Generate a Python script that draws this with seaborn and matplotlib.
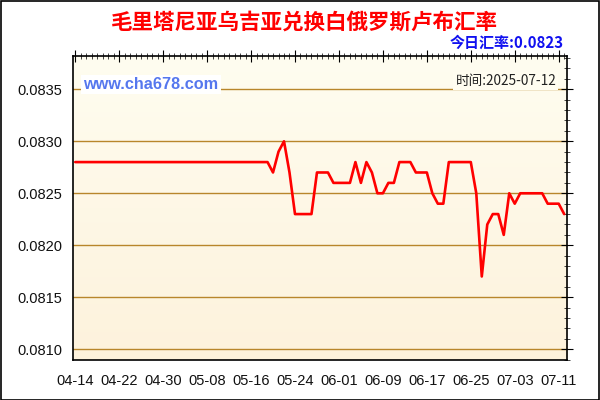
import numpy as np
import pandas as pd
import matplotlib
matplotlib.use("Agg")
import matplotlib.pyplot as plt
import matplotlib.dates as mdates
from matplotlib.ticker import MultipleLocator, FormatStrFormatter
from matplotlib.colors import LinearSegmentedColormap
import seaborn as sns

dates = pd.date_range("2025-04-14", "2025-07-12", freq="D")
rates = [
    0.0828, 0.0828, 0.0828, 0.0828, 0.0828, 0.0828, 0.0828, 0.0828, 0.0828, 0.0828,
    0.0828, 0.0828, 0.0828, 0.0828, 0.0828, 0.0828, 0.0828, 0.0828, 0.0828, 0.0828,
    0.0828, 0.0828, 0.0828, 0.0828, 0.0828, 0.0828, 0.0828, 0.0828, 0.0828, 0.0828,
    0.0828, 0.0828, 0.0828, 0.0828, 0.0828, 0.0828, 0.0827, 0.0829, 0.0830, 0.0827,
    0.0823, 0.0823, 0.0823, 0.0823, 0.0827, 0.0827, 0.0827, 0.0826, 0.0826, 0.0826,
    0.0826, 0.0828, 0.0826, 0.0828, 0.0827, 0.0825, 0.0825, 0.0826, 0.0826, 0.0828,
    0.0828, 0.0828, 0.0827, 0.0827, 0.0827, 0.0825, 0.0824, 0.0824, 0.0828, 0.0828,
    0.0828, 0.0828, 0.0828, 0.0825, 0.0817, 0.0822, 0.0823, 0.0823, 0.0821, 0.0825,
    0.0824, 0.0825, 0.0825, 0.0825, 0.0825, 0.0825, 0.0824, 0.0824, 0.0824, 0.0823,
]
title = "毛里塔尼亚乌吉亚兑换白俄罗斯卢布汇率"
today_text = "今日汇率:0.0823"
site_text = "www.cha678.com"
time_text = "时间:2025-07-12"

df = pd.DataFrame({"date": dates, "rate": rates})

sns.set_style("white")
plt.rcParams["font.family"] = ["Liberation Sans", "Noto Sans CJK SC", "DejaVu Sans"]
cjk = ["Noto Sans CJK SC", "DejaVu Sans"]

fig = plt.figure(figsize=(6, 4), dpi=100)
fig.patch.set_facecolor("white")
# black frame round the whole picture
fig.patches.append(plt.Rectangle((0.001, 0.001), 0.997, 0.996, transform=fig.transFigure,
                                 fill=False, edgecolor="black", linewidth=1.2))

ax = fig.add_axes([0.1222, 0.10, 0.8236, 0.76])

# cream gradient behind the plot
cmap = LinearSegmentedColormap.from_list("bg", ["#FDF2DC", "#FFFDF0"])
grad = np.linspace(0, 1, 256).reshape(-1, 1)
ax.imshow(grad, extent=[0, 1, 0, 1], transform=ax.transAxes, aspect="auto",
          cmap=cmap, origin="lower", zorder=0)

sns.lineplot(data=df, x="date", y="rate", ax=ax, color="#FF0000", linewidth=1.9, zorder=3)

x0 = mdates.date2num(dates[0])
ax.set_xlim(x0 - 0.35, x0 + 89.6)
ax.set_ylim(0.080897, 0.08382)

ax.yaxis.set_major_locator(MultipleLocator(0.0005))
ax.yaxis.set_minor_locator(MultipleLocator(0.0001))
ax.yaxis.set_major_formatter(FormatStrFormatter("%.4f"))
ticks = dates[::8]
ax.set_xticks(ticks)
ax.set_xticklabels([d.strftime("%m-%d") for d in ticks])
ax.xaxis.set_minor_locator(MultipleLocator(1))

ax.grid(axis="y", which="major", color="#B8862B", linewidth=1.0, zorder=1)
ax.grid(axis="x", visible=False)
for sp in ax.spines.values():
    sp.set_color("black")
    sp.set_linewidth(1.2)

ax.tick_params(axis="both", which="major", labelsize=10.5, colors="black", labelcolor="#111111")
ax.tick_params(axis="y", which="major", direction="inout", length=8, pad=4, right=True)
ax.tick_params(axis="y", which="minor", direction="inout", length=5, right=True)
ax.tick_params(axis="x", which="major", direction="inout", length=8, pad=6, top=True)
ax.tick_params(axis="x", which="minor", direction="inout", length=5, top=True)
ax.set_xlabel("")
ax.set_ylabel("")

fig.text(0.507, 0.945, title, ha="center", va="center", fontsize=15.5, fontweight="bold",
         color="#FF0000", family=cjk)
fig.text(0.94, 0.893, today_text, ha="right", va="center", fontsize=10.8, fontweight="bold",
         color="#1010F0", family=cjk)
fig.text(0.139, 0.788, site_text, ha="left", va="center", fontsize=11.7, fontweight="bold",
         color="#5577EE", bbox=dict(facecolor="white", edgecolor="none", pad=1.5), zorder=5)
fig.text(0.927, 0.797, time_text, ha="right", va="center", fontsize=9.8, color="#222222",
         family=cjk, bbox=dict(facecolor="#FFFDF0", edgecolor="none", pad=1.5), zorder=5)

fig.savefig("out.png", dpi=100)
